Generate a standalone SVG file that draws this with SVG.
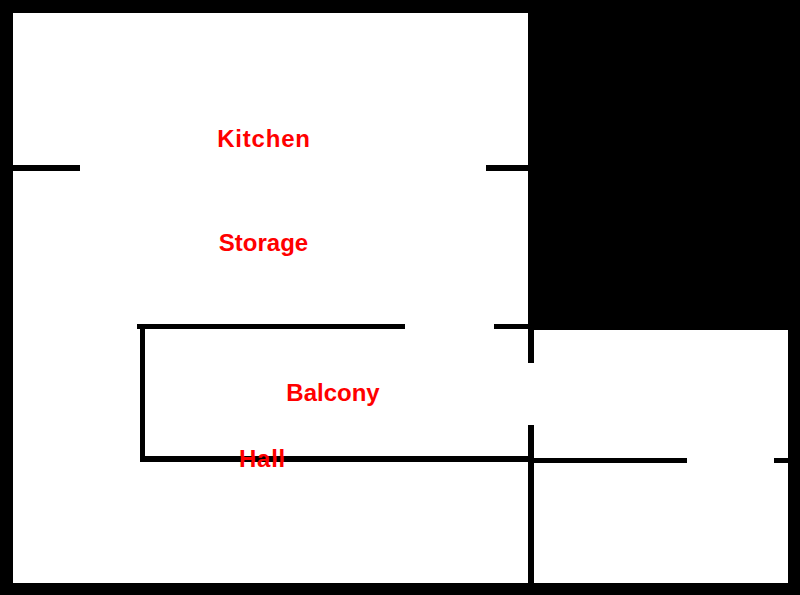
<svg xmlns="http://www.w3.org/2000/svg" width="800" height="595" viewBox="0 0 800 595">
<style>
.w{fill:#000;shape-rendering:crispEdges}
.l{fill:#f00;font-family:"Liberation Sans",Arial,sans-serif;font-weight:700;font-size:24px;text-anchor:middle}
</style>
<rect width="800" height="595" fill="#000"/>
<g id="rooms" fill="#fff" shape-rendering="crispEdges">
<rect x="13" y="13" width="515" height="570"/>
<rect x="528" y="330" width="260" height="253"/>
</g>
<g id="walls">
<rect class="w" x="13" y="165" width="67" height="6"/>
<rect class="w" x="486" y="165" width="42" height="6"/>
<rect class="w" x="137" y="324" width="268" height="5"/>
<rect class="w" x="494" y="324" width="34" height="5"/>
<rect class="w" x="140" y="329" width="5" height="133"/>
<rect class="w" x="140" y="456" width="388" height="6"/>
<rect class="w" x="528" y="330" width="6" height="33"/>
<rect class="w" x="528" y="425" width="6" height="158"/>
<rect class="w" x="534" y="458" width="153" height="5"/>
<rect class="w" x="774" y="458" width="14" height="5"/>
</g>
<g id="kitchen"><text class="l" x="264" y="147" letter-spacing=".8">Kitchen</text></g>
<g id="storage"><text class="l" x="263.500" y="251">Storage</text></g>
<g id="balcony"><text class="l" x="333" y="401">Balcony</text></g>
<g id="hall"><text class="l" x="262.500" y="467" letter-spacing=".7">Hall</text></g>
</svg>
